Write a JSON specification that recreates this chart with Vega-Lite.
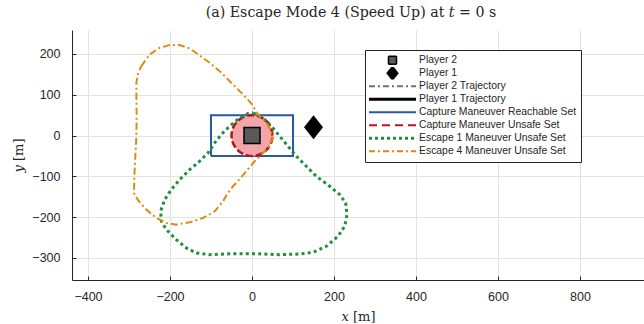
{
  "$schema": "https://vega.github.io/schema/vega-lite/v6.json",
  "width": 572,
  "height": 250,
  "autosize": {"type": "none"},
  "padding": {"left": 72, "top": 30, "right": 0, "bottom": 44},
  "background": "white",
  "title": {"text": "(a) Escape Mode 4 (Speed Up) at 𝑡 = 0 s", "font": "DejaVu Serif", "fontSize": 14.2, "fontWeight": "normal", "color": "#262626", "dx": -7, "offset": 10},
  "config": {
    "view": {"stroke": null},
    "axis": {"grid": true, "gridColor": "#e3e3e3", "domainColor": "#262626", "tickColor": "#262626", "tickSize": -4, "labelFont": "Liberation Sans", "labelFontSize": 12.5, "labelColor": "#262626", "titleFont": "DejaVu Serif", "titleFontSize": 13, "titleFontWeight": "normal", "titleColor": "#262626"}
  },
  "datasets": {
    "main": [
      {"series": "Capture Maneuver Reachable Set", "i": 0, "x": -100, "y": -50},
      {"series": "Capture Maneuver Reachable Set", "i": 1, "x": 100, "y": -50},
      {"series": "Capture Maneuver Reachable Set", "i": 2, "x": 100, "y": 50},
      {"series": "Capture Maneuver Reachable Set", "i": 3, "x": -100, "y": 50},
      {"series": "Capture Maneuver Reachable Set", "i": 4, "x": -100, "y": -50},

      {"series": "Capture Maneuver Unsafe Set", "i": 0, "x": 50, "y": 0},
      {"series": "Capture Maneuver Unsafe Set", "i": 1, "x": 49.24, "y": 8.68},
      {"series": "Capture Maneuver Unsafe Set", "i": 2, "x": 46.98, "y": 17.1},
      {"series": "Capture Maneuver Unsafe Set", "i": 3, "x": 43.3, "y": 25},
      {"series": "Capture Maneuver Unsafe Set", "i": 4, "x": 38.3, "y": 32.14},
      {"series": "Capture Maneuver Unsafe Set", "i": 5, "x": 32.14, "y": 38.3},
      {"series": "Capture Maneuver Unsafe Set", "i": 6, "x": 25, "y": 43.3},
      {"series": "Capture Maneuver Unsafe Set", "i": 7, "x": 17.1, "y": 46.98},
      {"series": "Capture Maneuver Unsafe Set", "i": 8, "x": 8.68, "y": 49.24},
      {"series": "Capture Maneuver Unsafe Set", "i": 9, "x": 0, "y": 50},
      {"series": "Capture Maneuver Unsafe Set", "i": 10, "x": -8.68, "y": 49.24},
      {"series": "Capture Maneuver Unsafe Set", "i": 11, "x": -17.1, "y": 46.98},
      {"series": "Capture Maneuver Unsafe Set", "i": 12, "x": -25, "y": 43.3},
      {"series": "Capture Maneuver Unsafe Set", "i": 13, "x": -32.14, "y": 38.3},
      {"series": "Capture Maneuver Unsafe Set", "i": 14, "x": -38.3, "y": 32.14},
      {"series": "Capture Maneuver Unsafe Set", "i": 15, "x": -43.3, "y": 25},
      {"series": "Capture Maneuver Unsafe Set", "i": 16, "x": -46.98, "y": 17.1},
      {"series": "Capture Maneuver Unsafe Set", "i": 17, "x": -49.24, "y": 8.68},
      {"series": "Capture Maneuver Unsafe Set", "i": 18, "x": -50, "y": 0},
      {"series": "Capture Maneuver Unsafe Set", "i": 19, "x": -49.24, "y": -8.68},
      {"series": "Capture Maneuver Unsafe Set", "i": 20, "x": -46.98, "y": -17.1},
      {"series": "Capture Maneuver Unsafe Set", "i": 21, "x": -43.3, "y": -25},
      {"series": "Capture Maneuver Unsafe Set", "i": 22, "x": -38.3, "y": -32.14},
      {"series": "Capture Maneuver Unsafe Set", "i": 23, "x": -32.14, "y": -38.3},
      {"series": "Capture Maneuver Unsafe Set", "i": 24, "x": -25, "y": -43.3},
      {"series": "Capture Maneuver Unsafe Set", "i": 25, "x": -17.1, "y": -46.98},
      {"series": "Capture Maneuver Unsafe Set", "i": 26, "x": -8.68, "y": -49.24},
      {"series": "Capture Maneuver Unsafe Set", "i": 27, "x": 0, "y": -50},
      {"series": "Capture Maneuver Unsafe Set", "i": 28, "x": 8.68, "y": -49.24},
      {"series": "Capture Maneuver Unsafe Set", "i": 29, "x": 17.1, "y": -46.98},
      {"series": "Capture Maneuver Unsafe Set", "i": 30, "x": 25, "y": -43.3},
      {"series": "Capture Maneuver Unsafe Set", "i": 31, "x": 32.14, "y": -38.3},
      {"series": "Capture Maneuver Unsafe Set", "i": 32, "x": 38.3, "y": -32.14},
      {"series": "Capture Maneuver Unsafe Set", "i": 33, "x": 43.3, "y": -25},
      {"series": "Capture Maneuver Unsafe Set", "i": 34, "x": 46.98, "y": -17.1},
      {"series": "Capture Maneuver Unsafe Set", "i": 35, "x": 49.24, "y": -8.68},
      {"series": "Capture Maneuver Unsafe Set", "i": 36, "x": 50, "y": 0},

      {"series": "Escape 1 Maneuver Unsafe Set", "i": 0, "x": 2.4, "y": 55.6},
      {"series": "Escape 1 Maneuver Unsafe Set", "i": 1, "x": 26.8, "y": 43.3},
      {"series": "Escape 1 Maneuver Unsafe Set", "i": 2, "x": 47.2, "y": 22.9},
      {"series": "Escape 1 Maneuver Unsafe Set", "i": 3, "x": 67.5, "y": -1.6},
      {"series": "Escape 1 Maneuver Unsafe Set", "i": 4, "x": 87.8, "y": -26.2},
      {"series": "Escape 1 Maneuver Unsafe Set", "i": 5, "x": 108.1, "y": -50.7},
      {"series": "Escape 1 Maneuver Unsafe Set", "i": 6, "x": 132.5, "y": -75.2},
      {"series": "Escape 1 Maneuver Unsafe Set", "i": 7, "x": 156.9, "y": -99.8},
      {"series": "Escape 1 Maneuver Unsafe Set", "i": 8, "x": 189.4, "y": -124.3},
      {"series": "Escape 1 Maneuver Unsafe Set", "i": 9, "x": 213.8, "y": -144.7},
      {"series": "Escape 1 Maneuver Unsafe Set", "i": 10, "x": 228.5, "y": -165.2},
      {"series": "Escape 1 Maneuver Unsafe Set", "i": 11, "x": 231.7, "y": -193.8},
      {"series": "Escape 1 Maneuver Unsafe Set", "i": 12, "x": 226, "y": -222.4},
      {"series": "Escape 1 Maneuver Unsafe Set", "i": 13, "x": 209.8, "y": -246.9},
      {"series": "Escape 1 Maneuver Unsafe Set", "i": 14, "x": 181.3, "y": -271.5},
      {"series": "Escape 1 Maneuver Unsafe Set", "i": 15, "x": 148.8, "y": -286.2},
      {"series": "Escape 1 Maneuver Unsafe Set", "i": 16, "x": 116.3, "y": -290.3},
      {"series": "Escape 1 Maneuver Unsafe Set", "i": 17, "x": 67.5, "y": -291.9},
      {"series": "Escape 1 Maneuver Unsafe Set", "i": 18, "x": 10.6, "y": -289.5},
      {"series": "Escape 1 Maneuver Unsafe Set", "i": 19, "x": -46.3, "y": -289.5},
      {"series": "Escape 1 Maneuver Unsafe Set", "i": 20, "x": -103.3, "y": -291.9},
      {"series": "Escape 1 Maneuver Unsafe Set", "i": 21, "x": -135.8, "y": -287.8},
      {"series": "Escape 1 Maneuver Unsafe Set", "i": 22, "x": -160.2, "y": -275.6},
      {"series": "Escape 1 Maneuver Unsafe Set", "i": 23, "x": -184.6, "y": -255.1},
      {"series": "Escape 1 Maneuver Unsafe Set", "i": 24, "x": -208.9, "y": -230.6},
      {"series": "Escape 1 Maneuver Unsafe Set", "i": 25, "x": -221.1, "y": -210.1},
      {"series": "Escape 1 Maneuver Unsafe Set", "i": 26, "x": -222.8, "y": -185.6},
      {"series": "Escape 1 Maneuver Unsafe Set", "i": 27, "x": -213, "y": -157},
      {"series": "Escape 1 Maneuver Unsafe Set", "i": 28, "x": -196.7, "y": -132.5},
      {"series": "Escape 1 Maneuver Unsafe Set", "i": 29, "x": -176.4, "y": -107.9},
      {"series": "Escape 1 Maneuver Unsafe Set", "i": 30, "x": -152, "y": -83.4},
      {"series": "Escape 1 Maneuver Unsafe Set", "i": 31, "x": -127.6, "y": -63},
      {"series": "Escape 1 Maneuver Unsafe Set", "i": 32, "x": -107.3, "y": -42.5},
      {"series": "Escape 1 Maneuver Unsafe Set", "i": 33, "x": -91, "y": -18},
      {"series": "Escape 1 Maneuver Unsafe Set", "i": 34, "x": -74.8, "y": 2.5},
      {"series": "Escape 1 Maneuver Unsafe Set", "i": 35, "x": -54.5, "y": 22.9},
      {"series": "Escape 1 Maneuver Unsafe Set", "i": 36, "x": -30, "y": 43.3},
      {"series": "Escape 1 Maneuver Unsafe Set", "i": 37, "x": -9.8, "y": 54},
      {"series": "Escape 1 Maneuver Unsafe Set", "i": 38, "x": 2.4, "y": 55.6},

      {"series": "Escape 4 Maneuver Unsafe Set", "i": 0, "x": -270, "y": 170},
      {"series": "Escape 4 Maneuver Unsafe Set", "i": 1, "x": -249.6, "y": 198.7},
      {"series": "Escape 4 Maneuver Unsafe Set", "i": 2, "x": -225.2, "y": 215},
      {"series": "Escape 4 Maneuver Unsafe Set", "i": 3, "x": -200.8, "y": 221.6},
      {"series": "Escape 4 Maneuver Unsafe Set", "i": 4, "x": -176.4, "y": 221.6},
      {"series": "Escape 4 Maneuver Unsafe Set", "i": 5, "x": -152, "y": 213.4},
      {"series": "Escape 4 Maneuver Unsafe Set", "i": 6, "x": -127.6, "y": 196.2},
      {"series": "Escape 4 Maneuver Unsafe Set", "i": 7, "x": -103.3, "y": 178.3},
      {"series": "Escape 4 Maneuver Unsafe Set", "i": 8, "x": -74.8, "y": 153.7},
      {"series": "Escape 4 Maneuver Unsafe Set", "i": 9, "x": -46.3, "y": 125.1},
      {"series": "Escape 4 Maneuver Unsafe Set", "i": 10, "x": -22, "y": 100.6},
      {"series": "Escape 4 Maneuver Unsafe Set", "i": 11, "x": -1.6, "y": 78.5},
      {"series": "Escape 4 Maneuver Unsafe Set", "i": 12, "x": 14.6, "y": 51.5},
      {"series": "Escape 4 Maneuver Unsafe Set", "i": 13, "x": 35, "y": 31.1},
      {"series": "Escape 4 Maneuver Unsafe Set", "i": 14, "x": 47.2, "y": 10.6},
      {"series": "Escape 4 Maneuver Unsafe Set", "i": 15, "x": 49.6, "y": -9.8},
      {"series": "Escape 4 Maneuver Unsafe Set", "i": 16, "x": 39, "y": -30.3},
      {"series": "Escape 4 Maneuver Unsafe Set", "i": 17, "x": 22.8, "y": -46.6},
      {"series": "Escape 4 Maneuver Unsafe Set", "i": 18, "x": 6.5, "y": -63},
      {"series": "Escape 4 Maneuver Unsafe Set", "i": 19, "x": -10.6, "y": -83.4},
      {"series": "Escape 4 Maneuver Unsafe Set", "i": 20, "x": -30, "y": -106.3},
      {"series": "Escape 4 Maneuver Unsafe Set", "i": 21, "x": -46.3, "y": -124.3},
      {"series": "Escape 4 Maneuver Unsafe Set", "i": 22, "x": -58.5, "y": -140.6},
      {"series": "Escape 4 Maneuver Unsafe Set", "i": 23, "x": -70.7, "y": -161.1},
      {"series": "Escape 4 Maneuver Unsafe Set", "i": 24, "x": -91, "y": -185.6},
      {"series": "Escape 4 Maneuver Unsafe Set", "i": 25, "x": -119.5, "y": -202},
      {"series": "Escape 4 Maneuver Unsafe Set", "i": 26, "x": -152, "y": -212.6},
      {"series": "Escape 4 Maneuver Unsafe Set", "i": 27, "x": -184.6, "y": -218.3},
      {"series": "Escape 4 Maneuver Unsafe Set", "i": 28, "x": -209, "y": -214.2},
      {"series": "Escape 4 Maneuver Unsafe Set", "i": 29, "x": -233.3, "y": -202},
      {"series": "Escape 4 Maneuver Unsafe Set", "i": 30, "x": -257.7, "y": -181.5},
      {"series": "Escape 4 Maneuver Unsafe Set", "i": 31, "x": -278, "y": -158.6},
      {"series": "Escape 4 Maneuver Unsafe Set", "i": 32, "x": -287.8, "y": -140.6},
      {"series": "Escape 4 Maneuver Unsafe Set", "i": 33, "x": -287, "y": -99.8},
      {"series": "Escape 4 Maneuver Unsafe Set", "i": 34, "x": -284.6, "y": -50.7},
      {"series": "Escape 4 Maneuver Unsafe Set", "i": 35, "x": -282, "y": -1.6},
      {"series": "Escape 4 Maneuver Unsafe Set", "i": 36, "x": -281.3, "y": 47.4},
      {"series": "Escape 4 Maneuver Unsafe Set", "i": 37, "x": -282, "y": 96.5},
      {"series": "Escape 4 Maneuver Unsafe Set", "i": 38, "x": -282, "y": 129.2},
      {"series": "Escape 4 Maneuver Unsafe Set", "i": 39, "x": -278, "y": 153.7},
      {"series": "Escape 4 Maneuver Unsafe Set", "i": 40, "x": -270, "y": 170},

      {"series": "Player 2", "i": 0, "x": 0, "y": 0},
      {"series": "Player 1", "i": 0, "x": 150, "y": 20}
    ],
    "disk": [
      {"x": -50, "y": 0, "y2": 0},
      {"x": -49.24, "y": 8.68, "y2": -8.68},
      {"x": -46.98, "y": 17.1, "y2": -17.1},
      {"x": -43.3, "y": 25, "y2": -25},
      {"x": -38.3, "y": 32.14, "y2": -32.14},
      {"x": -32.14, "y": 38.3, "y2": -38.3},
      {"x": -25, "y": 43.3, "y2": -43.3},
      {"x": -17.1, "y": 46.98, "y2": -46.98},
      {"x": -8.68, "y": 49.24, "y2": -49.24},
      {"x": 0, "y": 50, "y2": -50},
      {"x": 8.68, "y": 49.24, "y2": -49.24},
      {"x": 17.1, "y": 46.98, "y2": -46.98},
      {"x": 25, "y": 43.3, "y2": -43.3},
      {"x": 32.14, "y": 38.3, "y2": -38.3},
      {"x": 38.3, "y": 32.14, "y2": -32.14},
      {"x": 43.3, "y": 25, "y2": -25},
      {"x": 46.98, "y": 17.1, "y2": -17.1},
      {"x": 49.24, "y": 8.68, "y2": -8.68},
      {"x": 50, "y": 0, "y2": 0}
    ]
  },
  "data": {"name": "main"},
  "encoding": {
    "x": {"field": "x", "type": "quantitative", "scale": {"domain": [-439, 956], "nice": false, "zero": false}, "axis": {"title": "𝑥 [m]", "values": [-400, -200, 0, 200, 400, 600, 800], "labelPadding": 14, "titlePadding": 8}},
    "y": {"field": "y", "type": "quantitative", "scale": {"domain": [-354, 258.6], "nice": false, "zero": false}, "axis": {"title": "𝑦 [m]", "values": [-300, -200, -100, 0, 100, 200], "labelPadding": 16, "titlePadding": 6}}
  },
  "layer": [
    {
      "transform": [{"filter": "datum.series === 'Capture Maneuver Reachable Set'"}],
      "mark": {"type": "line", "strokeWidth": 2},
      "encoding": {
        "order": {"field": "i", "type": "quantitative"},
        "color": {
          "field": "series", "type": "nominal",
          "scale": {
            "domain": ["Player 2", "Player 1", "Player 2 Trajectory", "Player 1 Trajectory", "Capture Maneuver Reachable Set", "Capture Maneuver Unsafe Set", "Escape 1 Maneuver Unsafe Set", "Escape 4 Maneuver Unsafe Set"],
            "range": ["#000000", "#000000", "#707070", "#000000", "#2b57a7", "#c0141c", "#1f8f3a", "#dc8d10"]
          },
          "legend": {
            "title": null, "orient": "none", "legendX": 293, "legendY": 20,
            "strokeColor": "#262626", "fillColor": "#ffffff", "padding": 4,
            "labelFont": "Liberation Sans", "labelFontSize": 10.4, "labelColor": "#262626", "labelOffset": 39.6, "labelLimit": 300,
            "symbolType": "stroke", "symbolSize": 2209, "clipHeight": 12.4, "rowPadding": 0,
            "encode": {
              "symbols": {
                "update": {
                  "x": {"value": 23.5},
                  "shape": {"signal": "datum.value === 'Player 2' ? 'square' : datum.value === 'Player 1' ? 'M0,-1.2L0.95,0L0,1.2L-0.95,0Z' : 'stroke'"},
                  "size": {"signal": "datum.value === 'Player 2' ? 64 : datum.value === 'Player 1' ? 150 : 2209"},
                  "fill": {"signal": "datum.value === 'Player 2' ? '#5a5a5a' : datum.value === 'Player 1' ? '#000000' : 'transparent'"},
                  "strokeDash": {"signal": "datum.value === 'Player 2 Trajectory' || datum.value === 'Escape 4 Maneuver Unsafe Set' ? [6, 3, 2, 3] : datum.value === 'Capture Maneuver Unsafe Set' ? [8, 5] : datum.value === 'Escape 1 Maneuver Unsafe Set' ? [3, 3] : [1, 0]"},
                  "strokeWidth": {"signal": "datum.value === 'Player 2' ? 1.5 : datum.value === 'Player 1' ? 1 : datum.value === 'Player 1 Trajectory' ? 3 : datum.value === 'Escape 1 Maneuver Unsafe Set' ? 3 : 2"},
                  "opacity": {"value": 1}
                }
              }
            }
          }
        }
      }
    },
    {
      "data": {"name": "disk"},
      "mark": {"type": "area", "color": "#f3a6a9", "opacity": 1},
      "encoding": {"y2": {"field": "y2"}}
    },
    {
      "transform": [{"filter": "datum.series === 'Capture Maneuver Unsafe Set'"}],
      "mark": {"type": "line", "stroke": "#b5121b", "strokeWidth": 2.5, "strokeDash": [7, 3]},
      "encoding": {"order": {"field": "i", "type": "quantitative"}}
    },
    {
      "transform": [{"filter": "datum.series === 'Escape 1 Maneuver Unsafe Set'"}],
      "mark": {"type": "line", "stroke": "#1f8f3a", "strokeWidth": 3, "strokeDash": [3, 3.2]},
      "encoding": {"order": {"field": "i", "type": "quantitative"}}
    },
    {
      "transform": [{"filter": "datum.series === 'Escape 4 Maneuver Unsafe Set'"}],
      "mark": {"type": "line", "stroke": "#dc8d10", "strokeWidth": 2, "strokeDash": [7, 3, 2, 3]},
      "encoding": {"order": {"field": "i", "type": "quantitative"}}
    },
    {
      "transform": [{"filter": "datum.series === 'Player 2'"}],
      "mark": {"type": "point", "shape": "square", "filled": true, "fill": "#5a5a5a", "stroke": "#000000", "strokeWidth": 1.5, "size": 256, "opacity": 1}
    },
    {
      "transform": [{"filter": "datum.series === 'Player 1'"}],
      "mark": {"type": "point", "shape": "M0,-1.2L0.95,0L0,1.2L-0.95,0Z", "filled": true, "fill": "#000000", "size": 400, "opacity": 1}
    }
  ]
}
